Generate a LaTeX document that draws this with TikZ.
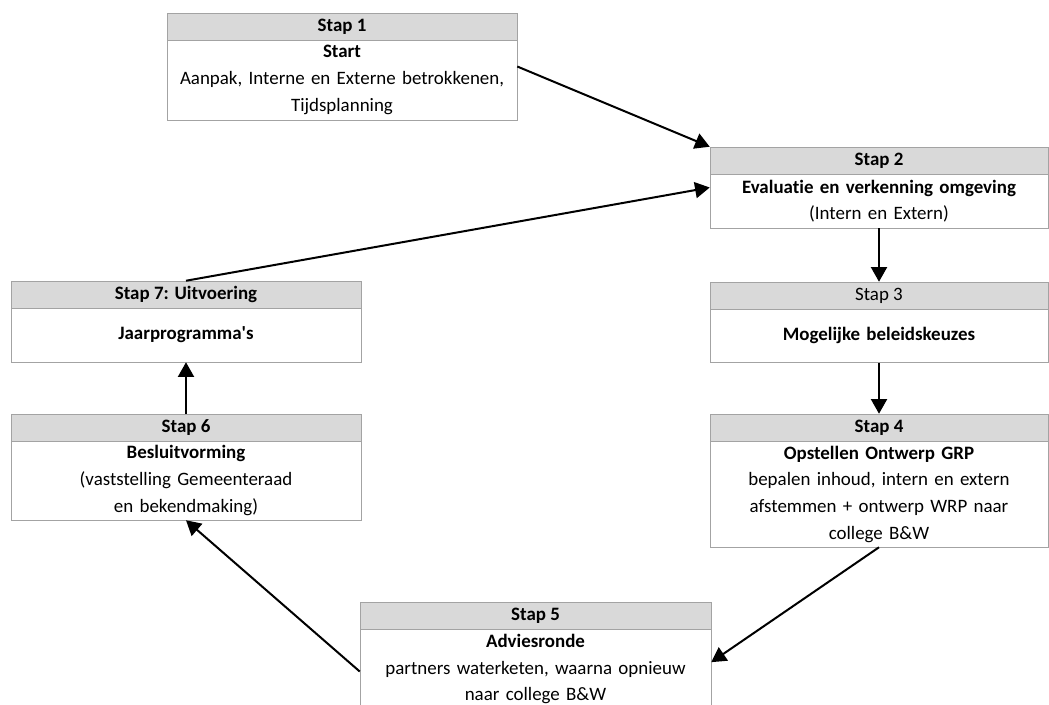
\documentclass[tikz,border=0pt]{standalone}
\usepackage{fontspec}
\setmainfont{Carlito}[Ligatures=NoCommon]
\usetikzlibrary{positioning, fit, arrows.meta}
\definecolor{kopgrijs}{HTML}{D9D9D9}
\definecolor{randgrijs}{HTML}{A3A3A3}

\begin{document}
\begin{tikzpicture}[x=0.75pt, y=-0.75pt, >={Triangle[length=11pt,width=12pt]},
        font=\fontsize{14.2}{20}\selectfont]
        \tikzset{kop/.style={draw=randgrijs, fill=kopgrijs, line width=0.75pt, minimum width=#1,
                minimum height=20.25pt, inner sep=0pt, outer sep=0pt, anchor=north west},
            romp/.style={draw=randgrijs, fill=white, line width=0.75pt, text width=#1,
                align=center, inner sep=0pt, outer sep=0pt},
            pijl/.style={->, line width=1.5pt}}
        \clip (0,0) rectangle (1049,704);

        \node[kop=262.5pt] (k1) at (167,13) {\textbf{Stap 1}};
        \node[romp=262.5pt, minimum height=60pt, below=0pt of k1] (s1) {\textbf{Start}\\Aanpak, Interne en Externe betrokkenen,\\Tijdsplanning};
        \node[fit=(k1)(s1), inner sep=0pt] (b1) {};

        \node[kop=253.5pt] (k2) at (710,147) {\textbf{Stap 2}};
        \node[romp=253.5pt, minimum height=40.5pt, below=0pt of k2] (s2) {\textbf{Evaluatie en verkenning omgeving}\\(Intern en Extern)};
        \node[fit=(k2)(s2), inner sep=0pt] (b2) {};

        \node[kop=253.5pt] (k3) at (710,282) {Stap 3};
        \node[romp=253.5pt, minimum height=40pt, below=0pt of k3] (s3) {\textbf{Mogelijke beleidskeuzes}};
        \node[fit=(k3)(s3), inner sep=0pt] (b3) {};

        \node[kop=253.5pt] (k4) at (710,414) {\textbf{Stap 4}};
        \node[romp=253.5pt, minimum height=79.5pt, below=0pt of k4] (s4) {\textbf{Opstellen Ontwerp GRP}\\bepalen inhoud, intern en extern\\afstemmen + ontwerp WRP naar\\college B\&W};
        \node[fit=(k4)(s4), inner sep=0pt] (b4) {};

        \node[kop=263.25pt] (k5) at (360,602) {\textbf{Stap 5}};
        \node[romp=263.25pt, minimum height=60pt, below=0pt of k5] (s5) {\textbf{Adviesronde}\\partners waterketen, waarna opnieuw\\naar college B\&W};
        \node[fit=(k5)(s5), inner sep=0pt] (b5) {};

        \node[kop=262.5pt] (k6) at (11,414) {\textbf{Stap 6}};
        \node[romp=262.5pt, minimum height=59.25pt, below=0pt of k6] (s6) {\textbf{Besluitvorming}\\(vaststelling Gemeenteraad\\en bekendmaking)};
        \node[fit=(k6)(s6), inner sep=0pt] (b6) {};

        \node[kop=262.5pt] (k7) at (11,281) {\textbf{Stap 7: Uitvoering}};
        \node[romp=262.5pt, minimum height=40.5pt, below=0pt of k7] (s7) {\textbf{Jaarprogramma\textquotesingle s}};
        \node[fit=(k7)(s7), inner sep=0pt] (b7) {};

        \draw[pijl] (b1.east) -- (b2.north west);
        \draw[pijl] (b2.south) -- (b3.north);
        \draw[pijl] (b3.south) -- (b4.north);
        \draw[pijl] (b4.south) -- ([yshift=-5pt]b5.east);
        \draw[pijl] ([yshift=-12pt]b5.west) -- (b6.south);
        \draw[pijl] (b6.north) -- (b7.south);
        \draw[pijl] (b7.north) -- (b2.west);

    \end{tikzpicture}
\end{document}
